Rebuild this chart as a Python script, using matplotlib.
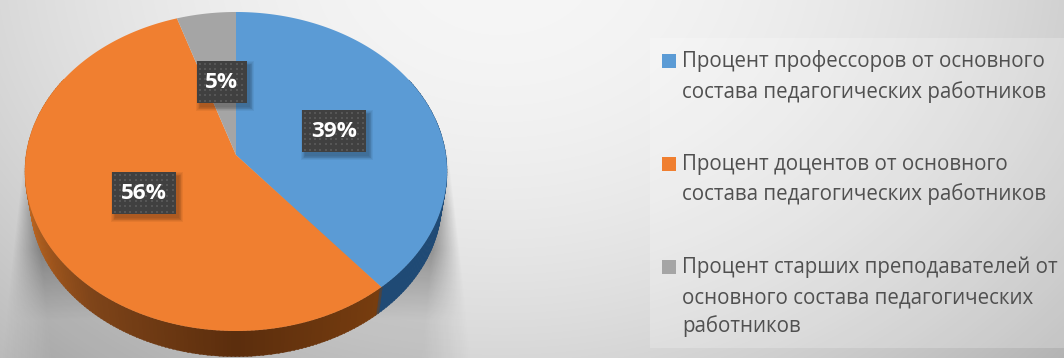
import numpy as np
import matplotlib
matplotlib.use('Agg')
import matplotlib.pyplot as plt
from matplotlib.collections import PolyCollection
from matplotlib.patches import Rectangle
from matplotlib.path import Path
from matplotlib.transforms import Affine2D, Transform

plt.rcParams['font.family'] = ['Open Sans', 'DejaVu Sans']

# data
shares = [39, 56, 5]
pct_labels = ['39%', '56%', '5%']
colors = ['#5b9bd5', '#f07f30', '#a5a5a5']
legend_lines = [
    ['Процент профессоров от основного', 'состава педагогических работников'],
    ['Процент доцентов от основного', 'состава педагогических работников'],
    ['Процент старших преподавателей от', 'основного состава педагогических', 'работников'],
]

W, H = 1064, 358
cx, cy = 236, 155
a, b, k = 209.9, 157.8, 0.1034
depth = 30
shrink = 0.975


def tilt(u, v, s=1.0, dy=0.0):
    w = 1 + k * v
    return cx + a * s * u / w, cy - b * s * v / w + dy


class Tilt(Transform):
    input_dims = output_dims = 2

    def transform_non_affine(self, xy):
        xy = np.asarray(xy, float)
        return np.column_stack(tilt(xy[:, 0], xy[:, 1]))

    def transform_path_non_affine(self, path):
        # flatten at a large scale, otherwise the arcs come out coarse
        poly = path.to_polygons(Affine2D().scale(2000), closed_only=True)[0] / 2000
        return Path(self.transform_non_affine(poly))


fig = plt.figure(figsize=(W / 100, H / 100), dpi=100)
ax = fig.add_axes([0, 0, 1, 1])

# pie first, it resets the axes so limits come after
wedges, _ = ax.pie(shares, colors=colors, startangle=90, counterclock=False,
                   wedgeprops={'linewidth': 0})
tr = Tilt() + ax.transData
for wd in wedges:
    wd.set_transform(tr)
    wd.set_zorder(5)
ax.set_aspect('auto')
ax.set_xlim(0, W)
ax.set_ylim(H, 0)
ax.axis('off')

# background
yy, xx = np.mgrid[0:H, 0:W]
d = np.hypot((xx - 500) / 1.0, (yy + 40) * 1.3)
bg = 0.965 - 0.22 * (d / 700) ** 2
bg_rgb = np.dstack([bg, bg, bg])
ax.imshow(np.clip(bg_rgb, 0, 1), extent=(0, W, H, 0), aspect='auto', zorder=0)

# soft shadow under the pie
hw = 211 + np.clip(yy - 143, 0, None) * 0.115
edge = np.clip((hw - np.abs(xx - 236)) / (4 + np.clip(yy - 143, 0, None) * 0.22), 0, 1)
fade_top = np.clip((yy - 140) / 70, 0, 1)
low = np.clip((yy - 250) / 70, 0, 1)
sh = edge * fade_top * (1 - 0.7 * low) * 0.36
shadow = np.zeros((H, W, 4))
shadow[..., 3] = sh
ax.imshow(shadow, extent=(0, W, H, 0), aspect='auto', zorder=1)

# side wall
th = np.arange(60, 300.5, 1.0)
stop_ang = [60, 140, 141, 180, 220, 250, 270, 300]
stop_r = [0.12, 0.12, 0.47, 0.36, 0.50, 0.71, 0.78, 0.78]
stop_g = [0.29, 0.29, 0.24, 0.18, 0.27, 0.38, 0.42, 0.42]
stop_b = [0.46, 0.46, 0.06, 0.05, 0.10, 0.12, 0.14, 0.14]
quads, qcol = [], []
for t0, t1 in zip(th[:-1], th[1:]):
    u = np.sin(np.radians([t0, t1 + 0.3]))
    v = np.cos(np.radians([t0, t1 + 0.3]))
    x1, y1 = tilt(u, v)
    x2, y2 = tilt(u, v, shrink, depth)
    quads.append([(x1[0], y1[0]), (x1[1], y1[1]), (x2[1], y2[1]), (x2[0], y2[0])])
    m = (t0 + t1) / 2
    qcol.append((np.interp(m, stop_ang, stop_r), np.interp(m, stop_ang, stop_g),
                 np.interp(m, stop_ang, stop_b)))
ax.add_collection(PolyCollection(quads, facecolors=qcol, edgecolors=qcol,
                                 linewidths=0.3, zorder=3))

# value boxes
boxes = [(302, 110, 64, 42), (112, 172, 64, 42), (197, 61, 50, 42)]
for (bx, by, bw, bh), lab in zip(boxes, pct_labels):
    for i in range(6):
        grow = i * 1.5
        ax.add_patch(Rectangle((bx + 3 - grow / 2, by + 4 - grow / 2), bw + grow, bh + grow,
                               fc='black', ec='none', alpha=0.05, zorder=6))
    ax.add_patch(Rectangle((bx, by), bw, bh, fc='#404040', ec='none', zorder=7))
    gx, gy = np.meshgrid(np.arange(bx + 2.5, bx + bw, 5.3), np.arange(by + 2.5, by + bh, 5.3))
    ax.scatter(gx.ravel(), gy.ravel(), s=1.6, c='#565656', marker='s', linewidths=0, zorder=8)
    ax.text(bx + bw / 2, by + bh / 2 + 0.5, lab, color='white', fontsize=16.2, fontweight='bold',
            ha='center', va='center', zorder=9)

# legend panel
ax.add_patch(Rectangle((650, 38), W - 650, 310, fc='white', ec='none', alpha=0.22, zorder=2))
swatch_y = [54, 157, 260]
baselines = [[67, 98], [170, 200], [273, 303, 332]]
for col, sy, rows, bases in zip(colors, swatch_y, legend_lines, baselines):
    ax.add_patch(Rectangle((662, sy), 14, 14, fc=col, ec='none', zorder=4))
    for row, base in zip(rows, bases):
        ax.text(682, base, row, color='#505050', fontsize=14.8, ha='left', va='baseline', zorder=4)

fig.savefig('out.png', dpi=100)
